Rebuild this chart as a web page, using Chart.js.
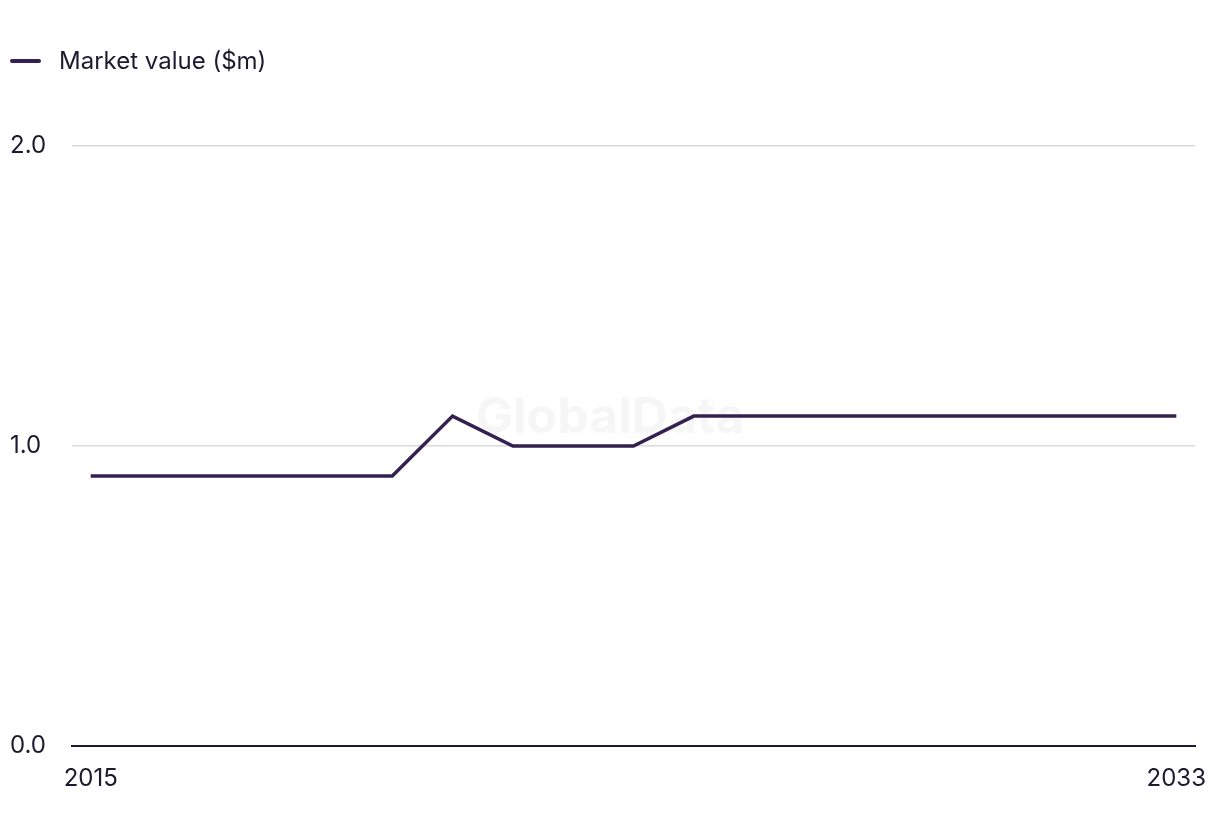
<!DOCTYPE html>
<html>
<head>
<meta charset="utf-8">
<script src="https://cdn.jsdelivr.net/npm/chart.js@4"></script>
<style>
  html, body { margin: 0; padding: 0; background: #fff; }
  #wrap { width: 1220px; height: 836px; }
</style>
</head>
<body>
<div id="wrap"><canvas id="marketChart"></canvas></div>
<script>
// data
var years = [2015, 2016, 2017, 2018, 2019, 2020, 2021, 2022, 2023, 2024,
             2025, 2026, 2027, 2028, 2029, 2030, 2031, 2032, 2033];
var marketValue = [0.9, 0.9, 0.9, 0.9, 0.9, 0.9, 1.1, 1.0, 1.0, 1.0,
                   1.1, 1.1, 1.1, 1.1, 1.1, 1.1, 1.1, 1.1, 1.1];
var xTickYears = [2015, 2033];
var yTickValues = [0, 1, 2];

var lineColor = '#35214f';
var textColor = '#1b1a2e';
var fontFamily = "Inter, 'Liberation Sans', sans-serif";

// faint watermark behind the line
var watermark = {
    id: 'watermark',
    beforeDatasetsDraw: function (chart) {
        var c = chart.ctx;
        c.save();
        c.font = "bold 50px " + fontFamily;
        c.fillStyle = 'rgba(0, 0, 0, 0.035)';
        c.textAlign = 'center';
        c.textBaseline = 'middle';
        c.fillText('GlobalData', chart.width / 2, 418);
        c.restore();
    }
};

// simple legend in the top-left corner: short line then label
var topLegend = {
    id: 'topLegend',
    afterDraw: function (chart) {
        var c = chart.ctx;
        var ds = chart.data.datasets[0];
        c.save();
        c.strokeStyle = ds.borderColor;
        c.lineWidth = 4;
        c.lineCap = 'round';
        c.beginPath();
        c.moveTo(12, 61);
        c.lineTo(39, 61);
        c.stroke();
        c.fillStyle = textColor;
        c.font = "24px " + fontFamily;
        c.textBaseline = 'middle';
        c.fillText(ds.label, 59, 62);
        c.restore();
    }
};

var ctx = document.getElementById('marketChart').getContext('2d');
var marketChart = new Chart(ctx, {
    type: 'line',
    data: {
        datasets: [{
            label: 'Market value ($m)',
            data: years.map(function (y, i) { return { x: y, y: marketValue[i] }; }),
            borderColor: lineColor,
            backgroundColor: lineColor,
            borderWidth: 3.5,
            pointRadius: 0,
            tension: 0
        }]
    },
    options: {
        responsive: true,
        maintainAspectRatio: false,
        animation: false,
        layout: { padding: { left: 10, right: 25, top: 146, bottom: 25 } },
        plugins: {
            legend: { display: false },
            tooltip: { enabled: false }
        },
        scales: {
            x: {
                type: 'linear',
                min: 2014.69,
                max: 2033.31,
                afterBuildTicks: function (axis) {
                    axis.ticks = xTickYears.map(function (v) { return { value: v }; });
                },
                afterFit: function (axis) {
                    axis.paddingLeft = 0;
                    axis.paddingRight = 0;
                },
                ticks: {
                    color: textColor,
                    font: { family: fontFamily, size: 24 },
                    maxRotation: 0,
                    padding: 18,
                    callback: function (v) { return String(v); }
                },
                grid: { display: false, drawTicks: false },
                border: { display: true, color: textColor, width: 2 }
            },
            y: {
                min: 0,
                max: 2,
                afterBuildTicks: function (axis) {
                    axis.ticks = yTickValues.map(function (v) { return { value: v }; });
                },
                afterFit: function (axis) { axis.width = 62; },
                ticks: {
                    color: textColor,
                    font: { family: fontFamily, size: 24 },
                    crossAlign: 'far',
                    padding: 27,
                    callback: function (v) { return v.toFixed(1); }
                },
                grid: { color: '#d9d9de', lineWidth: 1.5, drawTicks: false },
                border: { display: false }
            }
        }
    },
    plugins: [watermark, topLegend]
});
</script>
</body>
</html>
